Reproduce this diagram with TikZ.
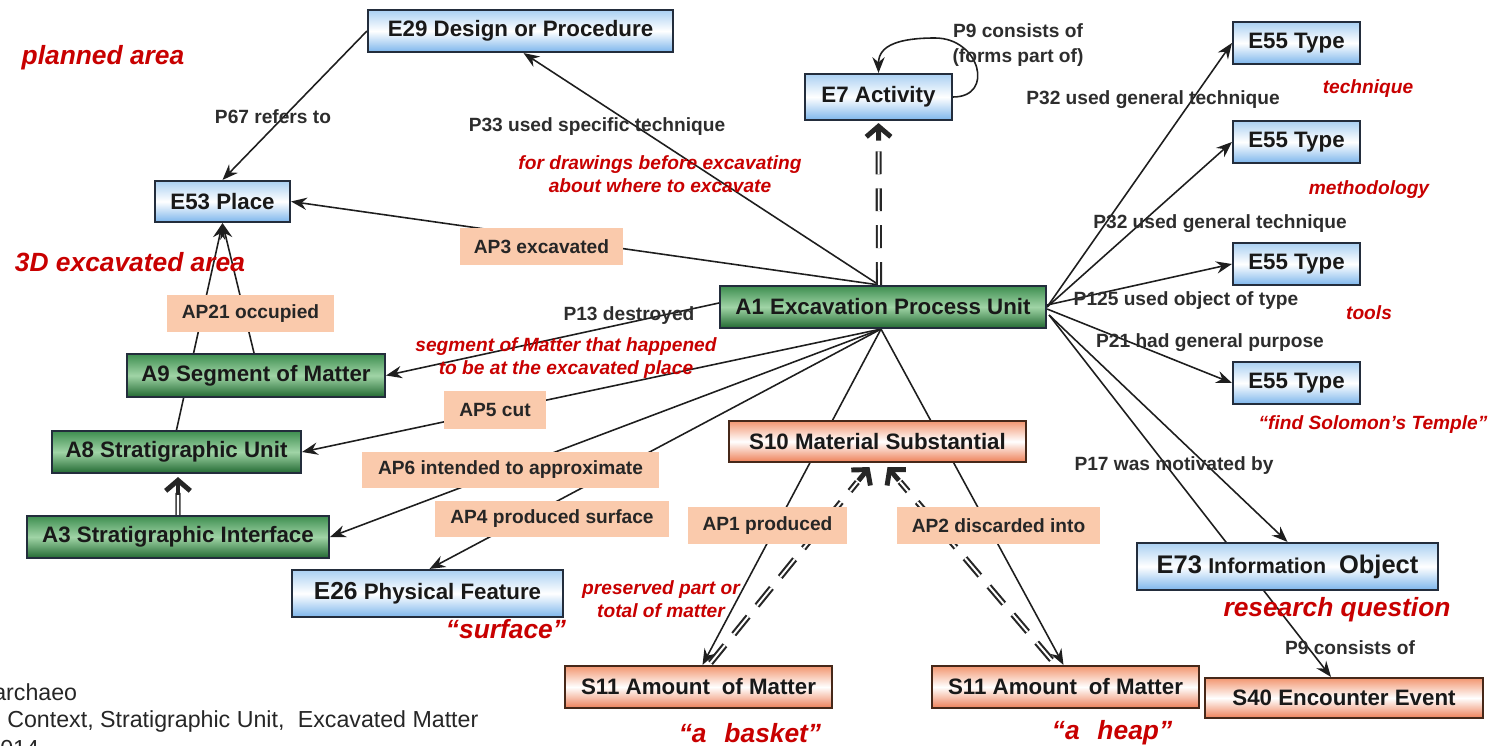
\documentclass[tikz,border=0pt]{standalone}
\usepackage{fontspec}
\setmainfont{Liberation Sans}
\usetikzlibrary{arrows.meta,calc}
\definecolor{boxline}{RGB}{35,45,60}
\definecolor{bluetop}{RGB}{170,208,242}
\definecolor{bluebot}{RGB}{125,182,236}
\definecolor{greentop}{RGB}{62,142,80}
\definecolor{greenmid}{RGB}{160,212,166}
\definecolor{greenbot}{RGB}{34,106,50}
\definecolor{orangetop}{RGB}{242,150,112}
\definecolor{orangebot}{RGB}{238,128,88}
\definecolor{lblfill}{RGB}{250,202,172}
\definecolor{redtxt}{RGB}{200,0,0}
\definecolor{reltxt}{RGB}{45,45,45}
\definecolor{arrowcol}{RGB}{30,30,30}
\newdimen\pxu \pxu=0.02cm
\pgfdeclarelayer{bg}
\pgfsetlayers{bg,main}
\begin{document}
\begin{tikzpicture}[x=0.02cm,y=-0.02cm,
  box/.style={draw=boxline, line width=1.2pt, inner sep=0pt, minimum height=42\pxu, text=black!90,
    font=\bfseries\fontsize{12.7}{14}\selectfont},
  bluebox/.style={box, top color=bluetop, bottom color=bluebot, middle color=white},
  greenbox/.style={box, top color=greentop, bottom color=greenbot, middle color=greenmid},
  orangebox/.style={box, draw={rgb,255:red,70;green,40;blue,25}, top color=orangetop, bottom color=orangebot, middle color=white},
  lbl/.style={fill=lblfill, inner sep=0pt, text=black!85, font=\bfseries\fontsize{10.9}{12}\selectfont},
  rtxt/.style={inner sep=0pt, text=reltxt, align=center, font=\bfseries\fontsize{10.9}{14}\selectfont},
  note/.style={inner sep=0pt, text=redtxt, align=center, font=\bfseries\itshape\fontsize{10.9}{13.2}\selectfont},
  bignote/.style={inner sep=0pt, text=redtxt, font=\bfseries\itshape\fontsize{15}{17}\selectfont},
  foot/.style={inner sep=0pt, text=black!85, font=\fontsize{13.2}{15}\selectfont},
  rel/.style={draw=arrowcol, line width=0.9pt, -{Stealth[length=9pt,width=7pt,inset=3pt]}},
  dd/.style={draw=black!85, line width=1.2pt, double=white, double distance=1.1pt, dash pattern=on 13pt off 8pt},
  dsolid/.style={draw=black!80, line width=0.9pt, double=white, double distance=1.2pt},
  ddhead/.style={draw=black!85, line width=2.8pt, -{Straight Barb[length=6pt,width=14pt]}}
]
\useasboundingbox (0,0) rectangle (1493,746);

% ---------- boxes ----------
\node[bluebox, minimum width=305\pxu] (E29) at (520.5,31) {E29 Design or Procedure};
\node[bluebox, minimum width=135\pxu, minimum height=41\pxu] (E53) at (222.5,201.5) {E53 Place};
\node[bluebox, minimum width=147\pxu, minimum height=46\pxu] (E7) at (878.5,97) {E7 Activity};
\node[bluebox, minimum width=127\pxu] (E55a) at (1296.5,43) {E55 Type};
\node[bluebox, minimum width=127\pxu] (E55b) at (1296.5,142) {E55 Type};
\node[bluebox, minimum width=127\pxu] (E55c) at (1296.5,264) {E55 Type};
\node[bluebox, minimum width=127\pxu] (E55d) at (1296.5,383) {E55 Type};
\node[greenbox, minimum width=326\pxu] (A1) at (883,307) {A1 Excavation Process Unit};
\node[greenbox, minimum width=258\pxu, minimum height=43\pxu] (A9) at (256,375.5) {A9 Segment of Matter};
\node[greenbox, minimum width=249\pxu] (A8) at (176.5,452) {A8 Stratigraphic Unit};
\node[greenbox, minimum width=302\pxu] (A3) at (178,537) {A3 Stratigraphic Interface};
\node[bluebox, minimum width=271\pxu, minimum height=47\pxu] (E26) at (427.5,593.5)
  {{\fontsize{14}{15}\selectfont E26} Physical Feature};
\node[orangebox, minimum width=297\pxu, minimum height=41\pxu] (S10) at (877.5,441.5) {S10 Material Substantial};
\node[bluebox, minimum width=301\pxu, minimum height=47\pxu] (E73) at (1287.5,566.5)
  {{\fontsize{14.5}{15}\selectfont E73} {\fontsize{12.2}{14}\selectfont Information}\hspace{0.3em} {\fontsize{14.5}{15}\selectfont Object}};
\node[orangebox, minimum width=267\pxu] (S11a) at (698.5,687) {S11 Amount\hspace{0.25em} of Matter};
\node[orangebox, minimum width=267\pxu] (S11b) at (1065.5,687) {S11 Amount\hspace{0.25em} of Matter};
\node[orangebox, minimum width=278\pxu, minimum height=40\pxu] (S40) at (1344,698) {S40 Encounter Event};

% ---------- anchor coordinates ----------
\coordinate (a1t) at ($(A1.north)+(-4,0)$);
\coordinate (a1b) at ($(A1.south)+(-2,0)$);
\coordinate (a1l) at ($(A1.west)+(0,-4)$);
\coordinate (a1r) at ($(A1.east)+(2,8)$);
\coordinate (tipE7) at ($(E7.south)+(0,2)$);
\coordinate (tipL) at ($(S10.south)+(-8,4)$);
\coordinate (tipR) at ($(S10.south)+(10,4)$);
\coordinate (stL) at ($(S11a.north)+(12,-2)$);
\coordinate (stR) at ($(S11b.north)+(-14,-5)$);
\coordinate (tipA8) at ($(A8.south)+(1.5,3)$);

% ---------- connectors ----------
\begin{pgfonlayer}{bg}
\draw[rel] (E29.west) -- (E53.north);
\draw[rel] (a1t) -- ($(E29.south)+(3,0)$);
\draw[rel] (a1t) -- (E53.east);
\draw[rel] (a1l) -- (A9.east);
\draw[rel] (a1b) -- (A8.east);
\draw[rel] (a1b) -- (A3.east);
\draw[rel] (a1b) -- ($(E26.north)+(2,0)$);
\draw[rel] (a1b) -- ($(S11a.north)+(4,0)$);
\draw[rel] (a1b) -- ($(S11b.north)+(-2,0)$);
\draw[rel] ($(A9.north)+(-2,0)$) -- (E53.south);
\draw[rel] (A8.north) -- (E53.south);
\draw[rel] (A1.east) -- (E55a.west);
\draw[rel] (A1.east) -- (E55b.west);
\draw[rel] ($(A1.east)+(0,-2)$) -- (E55c.west);
\draw[rel] ($(A1.east)+(0,2)$) -- (E55d.west);
\draw[rel] (a1r) -- (E73.north);
\draw[rel] (a1r) -- ($(S40.north)+(-13,0)$);
% self loop on E7
\draw[rel] (E7.east) .. controls +(42,0) and +(45,0) .. (935,38)
  .. controls +(-35,0) and +(0,-28) .. (E7.north);
% double dashed: A1 -> E7
\draw[dd] (a1t) -- ($(tipE7)!11pt!(a1t)$);
\draw[ddhead] ($(tipE7)!10pt!(a1t)$) -- (tipE7);
% double dashed: S11 -> S10
\draw[dd] (stL) -- ($(tipL)!11pt!(stL)$);
\draw[ddhead] ($(tipL)!10pt!(stL)$) -- (tipL);
\draw[dd] (stR) -- ($(tipR)!11pt!(stR)$);
\draw[ddhead] ($(tipR)!10pt!(stR)$) -- (tipR);
% double solid: A3 -> A8
\draw[dsolid] (A3.north) -- ($(tipA8)!9pt!(A3.north)$);
\draw[ddhead] ($(tipA8)!10pt!(A3.north)$) -- (tipA8);
\end{pgfonlayer}

% ---------- property labels (filled) ----------
\node[lbl, minimum width=163\pxu, minimum height=37\pxu] (AP3) at (541.5,246.5) {AP3 excavated};
\node[lbl, minimum width=167\pxu, minimum height=37\pxu] (AP21) at (250.5,313.5) {AP21 occupied};
\node[lbl, minimum width=102\pxu, minimum height=38\pxu] (AP5) at (495,410) {AP5 cut};
\node[lbl, minimum width=297\pxu, minimum height=36\pxu] (AP6) at (510.5,470) {AP6 intended to approximate};
\node[lbl, minimum width=234\pxu, minimum height=36\pxu] (AP4) at (552,519) {AP4 produced surface};
\node[lbl, minimum width=159\pxu, minimum height=37\pxu] (AP1) at (767.5,525.5) {AP1 produced};
\node[lbl, minimum width=203\pxu, minimum height=37\pxu] (AP2) at (998.5,525.5) {AP2 discarded into};

% ---------- relation texts ----------
\node[rtxt] (tP67) at (273,117) {P67 refers to};
\node[rtxt] (tP33) at (597,127) {P33 used specific technique};
\node[rtxt] (tP9a) at (1018,45) {P9 consists of\\(forms part of)};
\node[rtxt] (tP32a) at (1153,100) {P32 used general technique};
\node[rtxt] (tP32b) at (1220,224) {P32 used general technique};
\node[rtxt] (tP125) at (1186,301) {P125 used object of type};
\node[rtxt] (tP21) at (1210,343) {P21 had general purpose};
\node[rtxt] (tP17) at (1174,466) {P17 was motivated by};
\node[rtxt] (tP9b) at (1350,648) {P9 consists of};
\node[rtxt] (tP13) at (629,316) {P13 destroyed};

% ---------- red notes ----------
\node[bignote] (nPlan) at (103,58) {planned area};
\node[bignote] (n3D) at (130,262) {3D excavated area};
\node[note] (nDraw) at (660,174) {for drawings before excavating\\about where to excavate};
\node[note] (nTech) at (1368,89) {technique};
\node[note] (nMeth) at (1369,190) {methodology};
\node[note] (nTools) at (1369,313) {tools};
\node[note] (nSol) at (1373,425) {“find Solomon’s Temple”};
\node[bignote] (nRes) at (1337,610) {research question};
\node[note] (nSeg) at (566,358) {segment of Matter that happened\\to be at the excavated place};
\node[bignote] (nSurf) at (506,629) {“surface”};
\node[note] (nPres) at (661,599) {preserved part or\\total of matter};
\node[bignote] (nBasket) at (750,733) {“a\hspace{0.4em} basket”};
\node[bignote] (nHeap) at (1112,733) {“a\hspace{0.4em} heap”};

% ---------- footer (cut off at the page edge, as in the source) ----------
\node[foot, anchor=base west] (f1) at (-7,700) {archaeo};
\node[foot, anchor=base west] (f2) at (7,727) {Context, Stratigraphic Unit,\hspace{0.3em} Excavated Matter};
\node[foot, anchor=base west] (f3) at (0,756) {014};
\end{tikzpicture}
\end{document}
